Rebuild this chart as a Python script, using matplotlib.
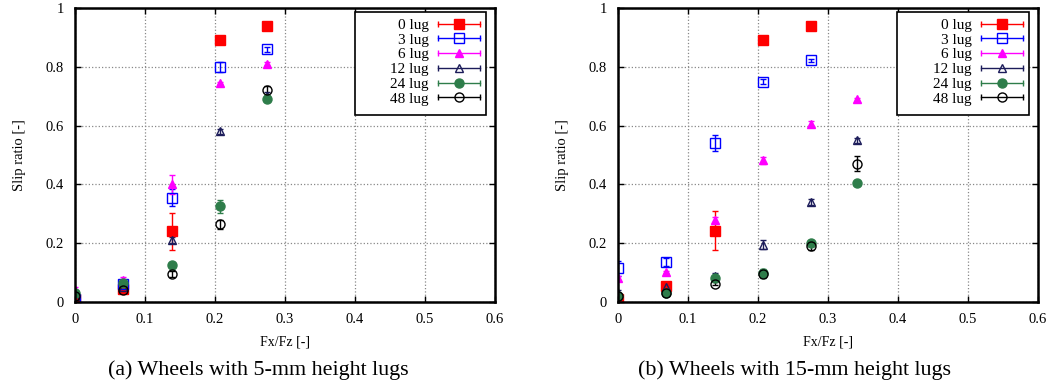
import matplotlib
matplotlib.use("Agg")
import matplotlib.pyplot as plt
from matplotlib.lines import Line2D
from matplotlib.patches import Rectangle
from matplotlib.legend_handler import HandlerBase

plt.rcParams['font.family'] = ['Liberation Serif', 'DejaVu Serif']

# traction ratio Fx/Fz
fx_5mm = [0.0, 0.069, 0.138, 0.207, 0.275]
fx_15mm = [0.0, 0.069, 0.138, 0.207, 0.275, 0.342]

lugs = ['0 lug', '3 lug', '6 lug', '12 lug', '24 lug', '48 lug']

# (a) 5-mm lugs: slip ratio and error
s5_0 = [0.01, 0.045, 0.24, 0.89, 0.94]
e5_0 = [0.005, 0.005, 0.062, 0.0, 0.0]
s5_3 = [0.01, 0.06, 0.355, 0.80, 0.86]
e5_3 = [0.005, 0.01, 0.03, 0.017, 0.008]
s5_6 = [0.04, 0.075, 0.40, 0.745, 0.81]
e5_6 = [0.01, 0.01, 0.032, 0.005, 0.005]
s5_12 = [0.02, 0.05, 0.21, 0.58, 0.70]
e5_12 = [0.01, 0.005, 0.01, 0.01, 0.015]
s5_24 = [0.03, 0.065, 0.125, 0.325, 0.69]
e5_24 = [0.01, 0.005, 0.005, 0.022, 0.005]
s5_48 = [0.02, 0.04, 0.095, 0.265, 0.72]
e5_48 = [0.01, 0.005, 0.01, 0.015, 0.015]

# (b) 15-mm lugs
s15_0 = [0.01, 0.053, 0.243, 0.89, 0.94]
e15_0 = [0.01, 0.005, 0.065, 0.0, 0.0]
s15_3 = [0.115, 0.136, 0.54, 0.75, 0.822]
e15_3 = [0.025, 0.015, 0.028, 0.008, 0.005]
s15_6 = [0.08, 0.102, 0.278, 0.482, 0.604, 0.69]
e15_6 = [0.01, 0.005, 0.01, 0.012, 0.01, 0.005]
s15_12 = [0.03, 0.05, 0.088, 0.195, 0.34, 0.55]
e15_12 = [0.01, 0.005, 0.01, 0.015, 0.01, 0.008]
s15_24 = [0.02, 0.03, 0.08, 0.097, 0.20, 0.405]
e15_24 = [0.01, 0.005, 0.005, 0.015, 0.005, 0.005]
s15_48 = [0.02, 0.03, 0.062, 0.095, 0.19, 0.47]
e15_48 = [0.01, 0.005, 0.005, 0.01, 0.012, 0.025]

colors = ['#ff0000', '#0000ff', '#ff00ff', '#1c1c5a', '#2e7d4a', '#000000']
markers = ['s', 's', '^', '^', 'o', 'o']
filled = [True, False, True, False, True, False]
sizes = [6.5, 6.5, 5.5, 5.5, 6.5, 6.5]


class HandlerErrLine(HandlerBase):
    """legend entry drawn as gnuplot style: bar with caps, marker in the middle"""
    def create_artists(self, legend, orig, xdescent, ydescent, width, height,
                       fontsize, trans):
        y = height / 2 - ydescent
        x0, x1 = -xdescent, width - xdescent
        c = orig.get_color()
        bar = Line2D([x0, x1], [y, y], color=c, lw=1.0)
        caps = Line2D([x0, x1], [y, y], ls='none', marker='|', ms=5,
                      mew=1.0, color=c)
        mk = Line2D([(x0 + x1) / 2], [y], ls='none', marker=orig.get_marker(),
                    ms=orig.get_markersize(), mfc=orig.get_markerfacecolor(),
                    mec=c, mew=1.0)
        for a in (bar, caps, mk):
            a.set_transform(trans)
        return [bar, caps, mk]


def draw_panel(ax, xs, series, box):
    for i, (y, e) in enumerate(series):
        x = xs[:len(y)]
        ax.errorbar(x, y, yerr=e, fmt=markers[i], color=colors[i],
                    ms=sizes[i], mfc=colors[i] if filled[i] else 'none',
                    mec=colors[i], mew=1.0, ecolor=colors[i], elinewidth=1.0,
                    capsize=2.5, capthick=1.0, zorder=3)
    ax.set_xlim(0, 0.6)
    ax.set_ylim(0, 1)
    ax.set_xticks([0, 0.1, 0.2, 0.3, 0.4, 0.5, 0.6])
    ax.set_xticklabels(['0', '0.1', '0.2', '0.3', '0.4', '0.5', '0.6'])
    ax.set_yticks([0, 0.2, 0.4, 0.6, 0.8, 1])
    ax.set_yticklabels(['0', '0.2', '0.4', '0.6', '0.8', '1'])
    ax.grid(True, linestyle=':', color='#888888', linewidth=0.9)
    ax.tick_params(direction='in', top=True, right=True, length=4,
                   width=1.0, labelsize=10.5, pad=8)
    for sp in ax.spines.values():
        sp.set_linewidth(1.8)
        sp.set_zorder(6)
    ax.set_xlabel('Fx/Fz [-]', fontsize=10, labelpad=7)
    ax.set_ylabel('Slip ratio [-]', fontsize=10.5, labelpad=14)

    # legend frame
    ax.add_patch(Rectangle((box[0], box[1]), box[2], box[3],
                           transform=ax.transAxes, facecolor='white',
                           edgecolor='black', lw=1.2, zorder=5))
    handles = [Line2D([], [], color=colors[i], marker=markers[i], ms=sizes[i],
                      mfc=colors[i] if filled[i] else 'none')
               for i in range(len(lugs))]
    leg = ax.legend(handles, lugs, loc='upper right', markerfirst=False,
                    fontsize=11, frameon=False, handlelength=2.75,
                    handletextpad=0.6, labelspacing=0.07, borderpad=0.4,
                    borderaxespad=0,
                    bbox_to_anchor=(box[0] + box[2], box[1] + box[3]),
                    handler_map={Line2D: HandlerErrLine()})
    leg.set_zorder(7)


fig = plt.figure(figsize=(10.53, 3.9), dpi=100)
ax1 = fig.add_axes([0.0712, 0.2256, 0.3989, 0.7539])
ax2 = fig.add_axes([0.5869, 0.2256, 0.3989, 0.7539])

draw_panel(ax1, fx_5mm, [(s5_0, e5_0), (s5_3, e5_3), (s5_6, e5_6),
                         (s5_12, e5_12), (s5_24, e5_24), (s5_48, e5_48)],
           (0.667, 0.636, 0.312, 0.350))
draw_panel(ax2, fx_15mm, [(s15_0, e15_0), (s15_3, e15_3), (s15_6, e15_6),
                          (s15_12, e15_12), (s15_24, e15_24), (s15_48, e15_48)],
           (0.664, 0.636, 0.315, 0.350))

fig.text(258 / 1053, 0.051, '(a) Wheels with 5-mm height lugs',
         ha='center', va='center', fontsize=15.8)
fig.text(795 / 1053, 0.051, '(b) Wheels with 15-mm height lugs',
         ha='center', va='center', fontsize=15.8)

fig.savefig('out.png', dpi=100, facecolor='white')
